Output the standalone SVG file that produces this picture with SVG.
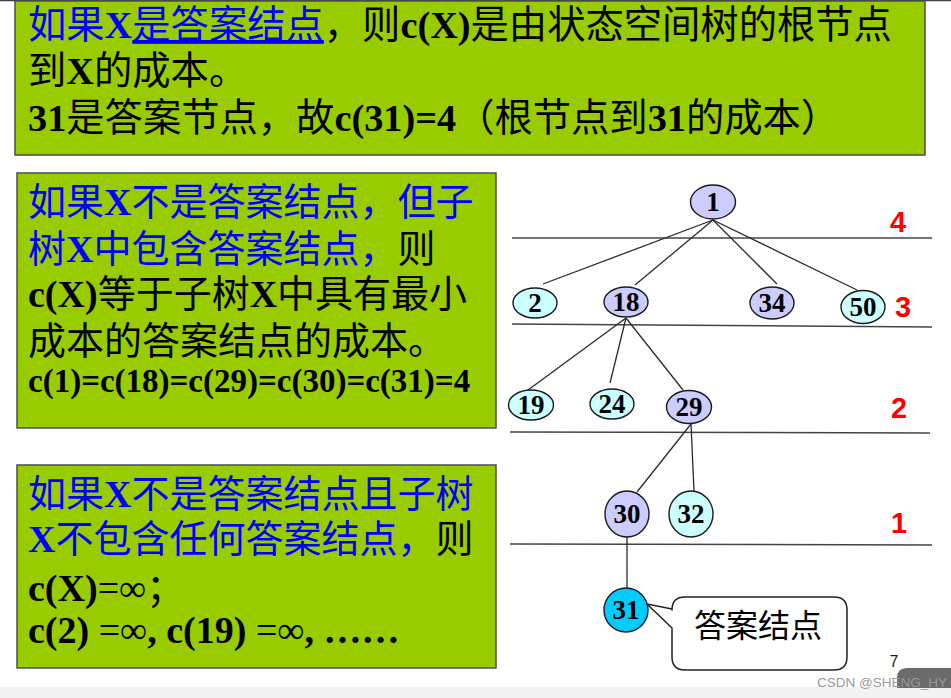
<svg xmlns="http://www.w3.org/2000/svg" width="951" height="698" viewBox="0 0 951 698">
<defs>
<style>
.box{fill:#99CC00;stroke:#4d4d4d;stroke-width:1.5}
.t{font-family:"Liberation Serif","Noto Sans CJK SC",serif;fill:#000}
.b{font-weight:bold}
.blue{fill:#0000FF}
.nd{stroke:#1a1a1a;stroke-width:1.4}
.p{fill:#CCCCFF}
.c{fill:#CCFFFF}
.nt{font-family:"Liberation Serif",serif;font-weight:bold;font-size:27px;text-anchor:middle;fill:#000}
.edge{stroke:#2a2a2a;stroke-width:1.3;fill:none}
.lvl{stroke:#444;stroke-width:1.5}
.red{font-family:"Liberation Sans",Arial,sans-serif;font-weight:bold;font-size:29px;fill:#FF0000;text-anchor:middle}
</style>
</defs>
<rect width="951" height="698" fill="#fff"/>
<line x1="0" y1="0.5" x2="951" y2="0.5" stroke="#3a3f4a" stroke-width="1.5"/>
<rect x="0" y="687" width="951" height="11" fill="#f3f3f3"/>

<g id="box-top">
<rect class="box" x="15" y="1" width="910" height="154"/>
<text class="t" x="28" y="38" font-size="38.3"><tspan class="blue">如果</tspan><tspan class="blue b">X</tspan><tspan class="blue" text-decoration="underline">是答案结点</tspan><tspan>，则</tspan><tspan class="b">c(X)</tspan><tspan>是由状态空间树的根节点</tspan></text>
<text class="t" x="28" y="84" font-size="38.3">到<tspan class="b">X</tspan>的成本。</text>
<text class="t" x="28" y="131" font-size="38.3"><tspan class="b">31</tspan>是答案节点，故<tspan class="b">c(31)=4</tspan>（根节点到<tspan class="b">31</tspan>的成本）</text>
</g>

<g id="box-mid">
<rect class="box" x="17" y="173" width="479" height="255"/>
<text class="t blue" x="28" y="215" font-size="38">如果<tspan class="b">X</tspan>不是答案结点，但子</text>
<text class="t" x="28" y="262" font-size="38"><tspan class="blue">树</tspan><tspan class="blue b">X</tspan><tspan class="blue">中包含答案结点，</tspan>则</text>
<text class="t" x="28" y="307" font-size="38"><tspan class="b">c(X)</tspan>等于子树<tspan class="b">X</tspan>中具有最小</text>
<text class="t" x="28" y="354" font-size="38">成本的答案结点的成本。</text>
<text class="t b" x="28" y="392" font-size="33">c(1)=c(18)=c(29)=c(30)=c(31)=4</text>
</g>

<g id="box-bottom">
<rect class="box" x="17" y="465" width="479" height="203"/>
<text class="t blue" x="28" y="507" font-size="38">如果<tspan class="b">X</tspan>不是答案结点且子树</text>
<text class="t" x="28" y="552" font-size="38"><tspan class="blue b">X</tspan><tspan class="blue">不包含任何答案结点，</tspan>则</text>
<text class="t" x="28" y="601" font-size="38"><tspan class="b">c(X)</tspan>=∞；</text>
<text class="t" x="28" y="643" font-size="38"><tspan class="b">c(2) </tspan>=∞<tspan class="b">, c(19) </tspan>=∞<tspan class="b">, ……</tspan></text>
</g>

<g id="levels">
<line class="lvl" x1="512" y1="238" x2="932" y2="238"/>
<line class="lvl" x1="512" y1="324" x2="932" y2="327"/>
<line class="lvl" x1="510" y1="432" x2="930" y2="433"/>
<line class="lvl" x1="510" y1="544" x2="932" y2="545"/>
<text class="red" x="898" y="232">4</text>
<text class="red" x="903" y="317">3</text>
<text class="red" x="899" y="418">2</text>
<text class="red" x="899" y="533">1</text>
</g>

<g id="connectors">
<line class="edge" x1="713" y1="220" x2="543" y2="284"/>
<line class="edge" x1="713" y1="220" x2="635" y2="285"/>
<line class="edge" x1="713" y1="220" x2="777" y2="284"/>
<line class="edge" x1="713" y1="220" x2="857" y2="290"/>
<line class="edge" x1="626" y1="318" x2="528" y2="390"/>
<line class="edge" x1="626" y1="318" x2="610" y2="383"/>
<line class="edge" x1="626" y1="318" x2="683" y2="390"/>
<line class="edge" x1="691" y1="424" x2="637" y2="492"/>
<line class="edge" x1="691" y1="424" x2="694" y2="491"/>
<line class="edge" x1="627" y1="537" x2="627" y2="588"/>
</g>

<g id="n1"><ellipse class="nd p" cx="713" cy="202" rx="22.5" ry="17"/><text class="nt" x="713" y="211">1</text></g>
<g id="n2"><ellipse class="nd c" cx="535" cy="303" rx="22" ry="15"/><text class="nt" x="535" y="312">2</text></g>
<g id="n18"><ellipse class="nd p" cx="626" cy="302" rx="22" ry="15"/><text class="nt" x="626" y="311">18</text></g>
<g id="n34"><ellipse class="nd p" cx="772" cy="303" rx="22" ry="16"/><text class="nt" x="772" y="312">34</text></g>
<g id="n50"><ellipse class="nd c" cx="863" cy="307" rx="22" ry="16.5"/><text class="nt" x="863" y="316">50</text></g>
<g id="n19"><ellipse class="nd c" cx="531" cy="405" rx="22.5" ry="15"/><text class="nt" x="531" y="414">19</text></g>
<g id="n24"><ellipse class="nd c" cx="612" cy="404" rx="22" ry="15"/><text class="nt" x="612" y="413">24</text></g>
<g id="n29"><ellipse class="nd p" cx="689" cy="407" rx="22.5" ry="16.5"/><text class="nt" x="689" y="416">29</text></g>
<g id="n30"><ellipse class="nd p" cx="627" cy="514" rx="22" ry="23"/><text class="nt" x="627" y="523">30</text></g>
<g id="n32"><ellipse class="nd c" cx="691" cy="514" rx="22" ry="23"/><text class="nt" x="691" y="523">32</text></g>
<g id="n31"><ellipse class="nd" fill="#00CCFF" cx="626" cy="610" rx="22" ry="22"/><text class="nt" x="626" y="619">31</text></g>

<g id="callout">
<path d="M685,597 H834 Q847,597 847,610 V657 Q847,670 834,670 H685 Q672,670 672,657 V628 L647,604 L672,609 V610 Q672,597 685,597 Z" fill="#fff" stroke="#222" stroke-width="1.5" stroke-linejoin="round"/>
<text x="758" y="637" font-family="'Noto Sans CJK SC',sans-serif" font-size="32" text-anchor="middle" fill="#000">答案结点</text>
</g>

<g id="footer">
<text x="894" y="667" font-family="'Liberation Sans',Arial,sans-serif" font-size="16" text-anchor="middle" fill="#222">7</text>
<path d="M907,668 H951 V688 H897 V678 Q897,668 907,668 Z" fill="#6b6b6b"/>
<text x="817" y="687" font-family="'Liberation Sans',Arial,sans-serif" font-size="13.5" fill="#9a9a9a">CSDN @SHENG_HY</text>
</g>
</svg>
